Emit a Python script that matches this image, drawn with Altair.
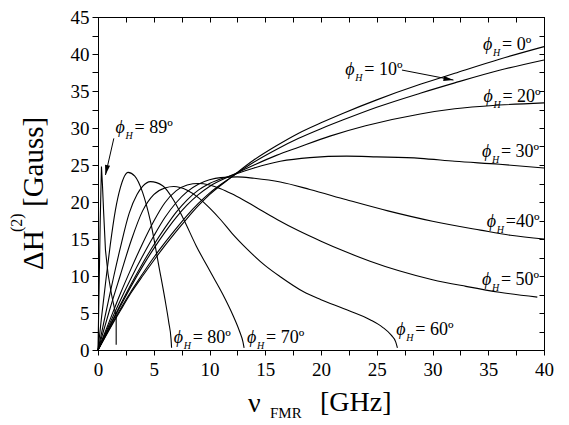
import altair as alt
import pandas as pd

# ---------------- data ----------------
phi0_x = [0, 1, 2, 3, 4, 5, 6, 7, 8, 9, 10, 12, 14, 16, 18, 20, 22, 25, 28.9, 32, 36, 40]
phi0_y = [0, 2.7, 5.3, 7.8, 10.0, 12.1, 14.1, 16.0, 17.8, 19.5, 21.0, 23.4, 25.7, 27.6, 29.3, 30.7, 32.0, 33.8, 35.9, 37.4, 39.3, 41.0]

phi10_x = [0, 1, 2, 3, 4, 5, 6, 7, 8, 9, 10, 12, 14, 16, 18, 20, 22, 25, 28.9, 32, 36, 40]
phi10_y = [0, 2.8, 5.5, 8.0, 10.3, 12.5, 14.5, 16.4, 18.2, 19.8, 21.2, 23.4, 25.4, 27.1, 28.6, 29.9, 31.1, 32.8, 34.7, 36.1, 37.8, 39.2]

phi20_x = [0, 1, 2, 3, 4, 5, 6, 7, 8, 9, 10, 12, 14, 16, 18, 20.8, 24, 28.9, 32, 36, 40]
phi20_y = [0, 3.0, 5.9, 8.7, 11.3, 13.7, 15.9, 17.9, 19.6, 21.0, 22.1, 23.6, 25.0, 26.3, 27.4, 28.9, 30.3, 31.9, 32.6, 33.1, 33.4]

phi30_x = [0, 1, 2, 3, 4, 5, 6, 7, 8, 9, 10, 12, 14, 16.35, 19, 22.3, 25, 28.9, 32, 36, 40]
phi30_y = [0, 3.1, 6.1, 9.0, 11.7, 14.2, 16.5, 18.6, 20.3, 21.6, 22.5, 23.6, 24.6, 25.5, 26.0, 26.2, 26.1, 25.9, 25.5, 25.1, 24.6]

phi40_x = [0, 1, 2, 3, 4, 5, 6, 7, 8, 9, 10, 11, 12.5, 14, 16.35, 19, 22.3, 26, 30, 34.3, 37, 40]
phi40_y = [0, 3.4, 6.7, 9.8, 12.7, 15.4, 17.9, 19.9, 21.4, 22.4, 23.0, 23.3, 23.4, 23.2, 22.7, 21.7, 20.3, 18.8, 17.4, 16.2, 15.5, 15.0]

phi50_x = [0, 1, 2, 3, 4, 5, 6, 7, 8, 9, 10, 11, 12, 13, 14.5, 16.1, 18, 20, 22, 24.4, 27, 30, 33, 36, 39.4]
phi50_y = [0, 3.8, 7.6, 11.1, 14.4, 17.4, 19.9, 21.5, 22.3, 22.5, 22.3, 21.8, 21.1, 20.3, 19.0, 17.6, 16.1, 14.7, 13.4, 12.0, 10.7, 9.5, 8.6, 7.8, 7.15]

phi60_x = [0, 0.5, 1, 2, 3, 4, 5, 6, 6.8, 8, 9, 10, 11, 12, 13.4, 15, 16.35, 18.4, 20, 22, 24.4, 25.5, 26.3, 26.7, 26.85]
phi60_y = [0, 2.6, 5.2, 10.1, 14.9, 18.8, 21.0, 21.9, 22.1, 21.6, 20.6, 19.2, 17.6, 15.8, 13.6, 11.4, 9.9, 7.9, 6.8, 5.6, 4.1, 3.1, 2.0, 1.1, 0.3]

phi70_x = [0, 0.5, 1, 1.42, 2, 2.8, 3.5, 4.0, 4.7, 5.8, 6.8, 7.7, 8.8, 10.1, 11.2, 12.1, 12.7, 13.0, 13.1]
phi70_y = [0, 3.6, 7.1, 10.0, 13.8, 18.5, 21.0, 22.1, 22.75, 22.2, 20.2, 17.6, 14.1, 10.5, 7.5, 4.7, 2.5, 1.1, 0.3]

phi80_x = [0, 0.3, 0.75, 1.1, 1.55, 2.0, 2.7, 3.3, 4.0, 4.7, 5.5, 6.0, 6.35, 6.55, 6.6]
phi80_y = [0, 4.2, 10.0, 14.2, 18.8, 21.9, 24.0, 23.5, 21.3, 17.4, 11.0, 6.9, 3.7, 1.5, 0.3]

phi89_x = [0, 0.1, 0.2, 0.31, 0.4, 0.5, 0.67, 0.9, 1.2, 1.63, 1.63]
phi89_y = [0, 8.5, 17.5, 24.8, 22.3, 18.8, 13.5, 10.3, 7.6, 4.5, 0.7]

curve_names = ["0", "10", "20", "30", "40", "50", "60", "70", "80"]
curve_xs = [phi0_x, phi10_x, phi20_x, phi30_x, phi40_x, phi50_x, phi60_x, phi70_x, phi80_x]
curve_ys = [phi0_y, phi10_y, phi20_y, phi30_y, phi40_y, phi50_y, phi60_y, phi70_y, phi80_y]

# annotation labels (anchor = left of phi, text baseline, in data units)
label_rest = ["= 0º", "= 10º", "= 20º", "= 30º", "=40º", "= 50º", "= 60º", "= 70º", "= 80º", "= 89º"]
label_x = [34.54, 22.18, 34.57, 34.43, 34.87, 34.43, 26.75, 13.37, 6.79, 1.57]
label_y = [40.53, 37.15, 33.55, 26.13, 16.68, 8.81, 2.06, 0.94, 0.94, 29.28]

# arrows (start -> tip)
arrow_x = [27.26, 1.42]
arrow_y = [37.83, 28.60]
arrow_x2 = [31.88, 0.67]
arrow_y2 = [36.48, 23.65]
arrow_angle = [99, 192]

x_ticks = [i * 2.5 for i in range(17)]
y_ticks = [i * 2.5 for i in range(19)]

# ---------------- build tables ----------------
rows = []
for name, cx, cy in zip(curve_names, curve_xs, curve_ys):
    for i, (a, b) in enumerate(zip(cx, cy)):
        rows.append({"curve": name, "i": i, "x": a, "y": b})
curves_df = pd.DataFrame(rows)
c89_df = pd.DataFrame({"i": list(range(len(phi89_x))), "x": phi89_x, "y": phi89_y})
labels_df = pd.DataFrame({"x": label_x, "y": label_y, "rest": label_rest,
                          "phi": ["ϕ"] * len(label_x), "H": ["H"] * len(label_x)})
arrows_df = pd.DataFrame({"x": arrow_x, "y": arrow_y, "x2": arrow_x2, "y2": arrow_y2, "angle": arrow_angle})

W, H = 446, 333
FONT = "Liberation Serif"
xs = alt.Scale(domain=[0, 40], nice=False, zero=False)
ys = alt.Scale(domain=[0, 45], nice=False, zero=False)

lab_expr = "datum.value % 5 === 0 ? format(datum.value, 'd') : ''"

x_main_axis = alt.Axis(orient="bottom", values=x_ticks, labelExpr=lab_expr, tickSize=5,
                       tickColor="black", domainColor="black", labelColor="black",
                       labelFont=FONT, labelFontSize=19, labelPadding=5, grid=False,
                       title=None, labelOverlap=False, labelFlush=False, tickWidth=1)
y_main_axis = alt.Axis(orient="left", values=y_ticks, labelExpr=lab_expr, tickSize=6,
                       tickColor="black", domainColor="black", labelColor="black",
                       labelFont=FONT, labelFontSize=19, labelPadding=3, grid=False,
                       title=None, labelOverlap=False, labelFlush=False, tickWidth=1)
x_top_axis = alt.Axis(orient="bottom", offset=-H, values=x_ticks, labels=False, tickSize=5,
                      tickColor="black", domainColor="black", grid=False, title=None, tickWidth=1)
y_right_axis = alt.Axis(orient="left", offset=-W, values=y_ticks, labels=False, tickSize=5,
                        tickColor="black", domainColor="black", grid=False, title=None, tickWidth=1)

curves = alt.Chart(curves_df).mark_line(color="black", strokeWidth=1.1, interpolate="monotone").encode(
    x=alt.X("x:Q", scale=xs, axis=x_main_axis),
    y=alt.Y("y:Q", scale=ys, axis=y_main_axis),
    detail="curve:N",
    order="i:Q",
)

curve89 = alt.Chart(c89_df).mark_line(color="black", strokeWidth=1.1, interpolate="linear").encode(
    x=alt.X("x:Q", scale=xs, axis=x_top_axis),
    y=alt.Y("y:Q", scale=ys, axis=y_right_axis),
    order="i:Q",
)

phi_txt = alt.Chart(labels_df).mark_text(align="left", baseline="alphabetic", font=FONT,
                                         fontStyle="italic", fontSize=18, color="black").encode(
    x=alt.X("x:Q", scale=xs, axis=None), y=alt.Y("y:Q", scale=ys, axis=None), text="phi:N")
h_txt = alt.Chart(labels_df).mark_text(align="left", baseline="alphabetic", font=FONT,
                                       fontStyle="italic", fontSize=10, color="black", dx=10, dy=6).encode(
    x=alt.X("x:Q", scale=xs, axis=None), y=alt.Y("y:Q", scale=ys, axis=None), text="H:N")
rest_txt = alt.Chart(labels_df).mark_text(align="left", baseline="alphabetic", font=FONT,
                                          fontSize=18, color="black", dx=19).encode(
    x=alt.X("x:Q", scale=xs, axis=None), y=alt.Y("y:Q", scale=ys, axis=None), text="rest:N")

arrow_lines = alt.Chart(arrows_df).mark_rule(color="black", strokeWidth=1).encode(
    x=alt.X("x:Q", scale=xs, axis=None), y=alt.Y("y:Q", scale=ys, axis=None),
    x2="x2:Q", y2="y2:Q")
arrow_heads = alt.Chart(arrows_df).mark_point(shape="M0,0L0.26,1L-0.26,1Z", filled=True,
                                              color="black", opacity=1, size=400).encode(
    x=alt.X("x2:Q", scale=xs, axis=None), y=alt.Y("y2:Q", scale=ys, axis=None),
    angle=alt.Angle("angle:Q", scale=None))

def txt(s, x, y, size, angle=0, style="normal"):
    return alt.Chart(pd.DataFrame({"t": [s]})).mark_text(
        align="left", baseline="alphabetic", font=FONT, fontSize=size, color="black",
        angle=angle, fontStyle=style).encode(x=alt.value(x), y=alt.value(y), text="t:N")

titles = [
    txt("ν", 150, 395, 28),
    txt("FMR", 172, 401, 15),
    txt("[GHz]", 222, 394, 28),
    txt("ΔH", -55, 253, 29, angle=270),
    txt("(2)", -76, 215, 16, angle=270),
    txt("[Gauss]", -55, 190, 29, angle=270),
]

chart = alt.layer(curves, curve89, phi_txt, h_txt, rest_txt, arrow_lines, arrow_heads, *titles).resolve_axis(
    x="independent", y="independent"
).properties(
    width=W, height=H,
    autosize=alt.AutoSizeParams(type="none"),
    padding={"left": 90, "top": 9, "right": 10, "bottom": 74},
).configure_view(stroke="black", strokeWidth=1)

chart.save("out.html", embed_options={"renderer": "svg", "actions": False})
